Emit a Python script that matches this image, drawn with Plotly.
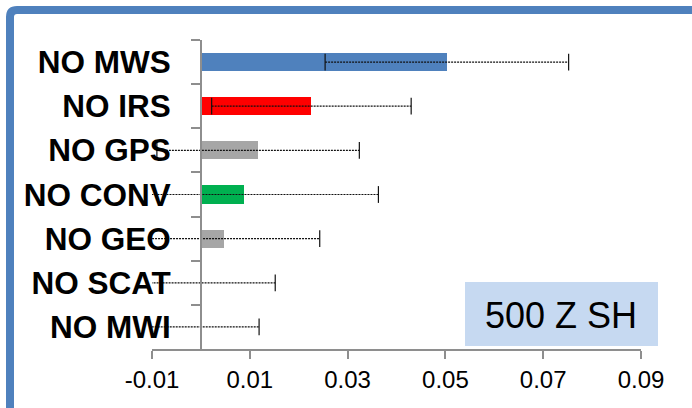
import plotly.graph_objects as go

# Observation-denial impact, 500 hPa height, Southern Hemisphere
categories = ["NO MWS", "NO IRS", "NO GPS", "NO CONV", "NO GEO", "NO SCAT", "NO MWI"]
impact = [0.0503, 0.0226, 0.0117, 0.0088, 0.0047, 0.0, 0.0]
uncertainty = [0.0249, 0.0204, 0.0207, 0.0275, 0.0196, 0.0152, 0.0119]
bar_colors = ["#4f81bd", "#ff0000", "#a6a6a6", "#00b050", "#a6a6a6", "#a6a6a6", "#a6a6a6"]

x_tickvals = [-0.01, 0.01, 0.03, 0.05, 0.07, 0.09]
x_ticktext = ["-0.01", "0.01", "0.03", "0.05", "0.07", "0.09"]
x_range = [-0.01, 0.09]

FONT = "Arial, Liberation Sans, sans-serif"
AXIS_GRAY = "#8e8e8e"

fig = go.Figure()

fig.add_trace(go.Bar(
    x=impact, y=categories, orientation="h",
    marker=dict(color=bar_colors, line=dict(width=0)),
    width=0.41, showlegend=False, hoverinfo="skip",
))

# dotted whiskers with end caps (value +/- uncertainty)
ex, ey = [], []
for c, v, u in zip(categories, impact, uncertainty):
    ex += [v - u, v + u, None]
    ey += [c, c, None]
fig.add_trace(go.Scatter(
    x=ex, y=ey, mode="lines+markers",
    line=dict(color="#111111", width=1.2, dash="2px,1px"),
    marker=dict(symbol="line-ns", size=12, line=dict(color="#111111", width=1.2)),
    showlegend=False, hoverinfo="skip",
))

zero_pos = (0 - x_range[0]) / (x_range[1] - x_range[0])

fig.update_layout(
    width=692, height=408,
    margin=dict(l=152, r=51, t=40, b=59, autoexpand=False),
    paper_bgcolor="white", plot_bgcolor="white",
    template="none",
    font=dict(family=FONT, color="black"),
    bargap=0,
    xaxis=dict(
        range=x_range, tickvals=x_tickvals, ticktext=x_ticktext,
        showgrid=False, zeroline=False,
        showline=True, linecolor=AXIS_GRAY, linewidth=1.5,
        ticks="outside", ticklen=8, tickwidth=1.5, tickcolor=AXIS_GRAY,
        tickfont=dict(size=24, family=FONT, color="black"),
        ticklabelstandoff=0,
        automargin=False,
    ),
    yaxis=dict(
        type="category", categoryorder="array", categoryarray=categories,
        range=[6.5, -0.5],
        anchor="free", position=zero_pos,
        showgrid=False, zeroline=False,
        showline=True, linecolor=AXIS_GRAY, linewidth=1.5,
        ticks="outside", tickson="boundaries", ticklen=9, tickwidth=1.5, tickcolor=AXIS_GRAY,
        tickfont=dict(size=31.5, family=FONT, color="black", weight="bold"),
        ticklabelstandoff=23,
        automargin=False,
    ),
)

# frame around the chart area (rounded top-left corner)
px_x = lambda p: (p - 152) / 489
px_y = lambda p: (349 - p) / 309
x0, y0 = px_x(10), px_y(10)
rx, ry = 7 / 489, 7 / 309
fig.add_shape(
    type="path", xref="paper", yref="paper",
    path=(f"M {x0},{px_y(430)} L {x0},{y0 - ry} Q {x0},{y0} {x0 + rx},{y0} "
          f"L {px_x(720)},{y0}"),
    line=dict(color="#4f81bd", width=8), layer="above",
)

# label box
fig.add_shape(
    type="rect", xref="paper", yref="paper",
    x0=px_x(465), x1=px_x(658), y0=px_y(346), y1=px_y(282),
    fillcolor="#c6d9f1", line=dict(width=0), layer="above",
)
fig.add_annotation(
    xref="paper", yref="paper", x=px_x(561), y=px_y(315),
    text="500 Z SH", showarrow=False,
    font=dict(size=36, family=FONT, color="black"),
    xanchor="center", yanchor="middle",
)

fig.write_html("out.html")
